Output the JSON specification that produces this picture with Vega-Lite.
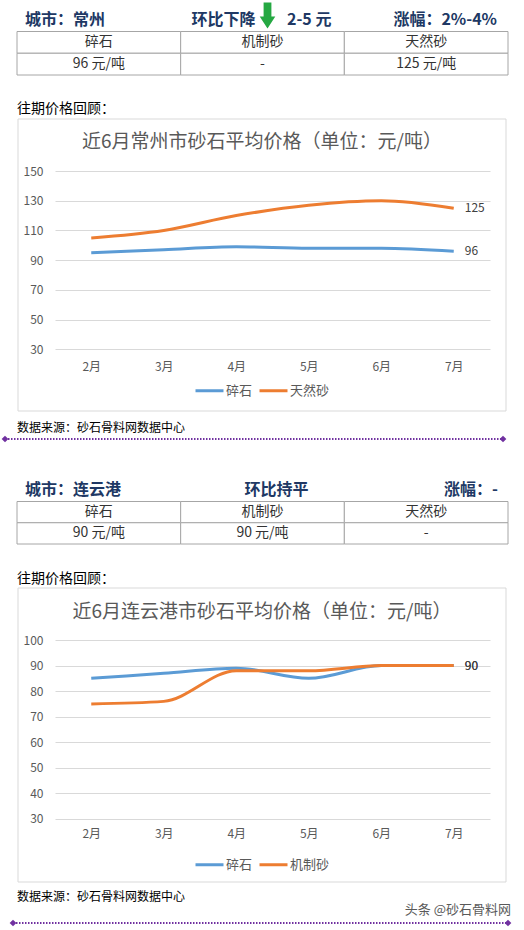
{
  "$schema": "https://vega.github.io/schema/vega-lite/v6.json",
  "padding": 0,
  "background": "white",
  "spacing": 0,
  "center": true,
  "bounds": "flush",
  "config": {
    "font": "Noto Sans CJK SC",
    "view": {"stroke": null},
    "text": {"font": "Noto Sans CJK SC"},
    "axis": {"labelFont": "Noto Sans CJK SC"},
    "legend": {"labelFont": "Noto Sans CJK SC"},
    "title": {"font": "Noto Sans CJK SC"}
  },
  "resolve": {
    "scale": {"x": "independent", "y": "independent", "color": "independent"},
    "legend": {"color": "independent"}
  },
  "datasets": {
    "header1": [
      {"part": "left", "col": "c1", "text": "城市：常州"},
      {"part": "midL", "col": "c2", "text": "环比下降"},
      {"part": "arrow", "col": "c2", "text": ""},
      {"part": "midR", "col": "c2", "text": "2-5 元"},
      {"part": "right", "col": "c3", "text": "涨幅：2%-4%"}
    ],
    "header2": [
      {"part": "left", "col": "c1", "text": "城市：连云港"},
      {"part": "mid", "col": "c2", "text": "环比持平"},
      {"part": "right", "col": "c3", "text": "涨幅：-"}
    ],
    "table1": [
      {"col": "c1", "row": "r1", "text": "碎石"},
      {"col": "c2", "row": "r1", "text": "机制砂"},
      {"col": "c3", "row": "r1", "text": "天然砂"},
      {"col": "c1", "row": "r2", "text": "96 元/吨"},
      {"col": "c2", "row": "r2", "text": "-"},
      {"col": "c3", "row": "r2", "text": "125 元/吨"}
    ],
    "table2": [
      {"col": "c1", "row": "r1", "text": "碎石"},
      {"col": "c2", "row": "r1", "text": "机制砂"},
      {"col": "c3", "row": "r1", "text": "天然砂"},
      {"col": "c1", "row": "r2", "text": "90 元/吨"},
      {"col": "c2", "row": "r2", "text": "90 元/吨"},
      {"col": "c3", "row": "r2", "text": "-"}
    ],
    "label": [{"col": "c1", "text": "往期价格回顾："}],
    "box": [{"box": 1}],
    "title1": [{"text": "近6月常州市砂石平均价格（单位：元/吨）"}],
    "title2": [{"text": "近6月连云港市砂石平均价格（单位：元/吨）"}],
    "chart1": [
      {"month": "2月", "type": "碎石", "value": 95},
      {"month": "3月", "type": "碎石", "value": 97},
      {"month": "4月", "type": "碎石", "value": 99},
      {"month": "5月", "type": "碎石", "value": 98},
      {"month": "6月", "type": "碎石", "value": 98},
      {"month": "7月", "type": "碎石", "value": 96},
      {"month": "2月", "type": "天然砂", "value": 105},
      {"month": "3月", "type": "天然砂", "value": 110},
      {"month": "4月", "type": "天然砂", "value": 120},
      {"month": "5月", "type": "天然砂", "value": 127},
      {"month": "6月", "type": "天然砂", "value": 130},
      {"month": "7月", "type": "天然砂", "value": 125}
    ],
    "chart2": [
      {"month": "2月", "type": "碎石", "value": 85},
      {"month": "3月", "type": "碎石", "value": 87},
      {"month": "4月", "type": "碎石", "value": 89},
      {"month": "5月", "type": "碎石", "value": 85},
      {"month": "6月", "type": "碎石", "value": 90},
      {"month": "7月", "type": "碎石", "value": 90},
      {"month": "2月", "type": "机制砂", "value": 75},
      {"month": "3月", "type": "机制砂", "value": 76},
      {"month": "4月", "type": "机制砂", "value": 88},
      {"month": "5月", "type": "机制砂", "value": 88},
      {"month": "6月", "type": "机制砂", "value": 90},
      {"month": "7月", "type": "机制砂", "value": 90}
    ],
    "foot1": [
      {"p": "a", "r": "l"},
      {"p": "b", "r": "l"}
    ],
    "foot1text": [{"p": "a", "r": "t", "text": "数据来源：砂石骨料网数据中心"}],
    "foot2": [
      {"p": "a", "r": "l"},
      {"p": "b", "r": "l"}
    ],
    "foot2text": [
      {"p": "a", "r": "t", "text": "数据来源：砂石骨料网数据中心"}
    ],
    "foot2brand": [
      {"p": "b", "r": "w", "text": "头条 @砂石骨料网"}
    ]
  },
  "vconcat": [
    {
      "width": 524,
      "height": 31,
      "data": {"name": "header1"},
      "layer": [
        {
          "transform": [{"filter": "datum.part === 'left'"}],
          "mark": {"type": "text", "align": "left", "dx": 8, "dy": 4, "fontSize": 16, "fontWeight": "bold", "color": "#203864"},
          "encoding": {
            "x": {"field": "col", "type": "nominal", "bandPosition": 0, "scale": {"type": "band", "domain": ["c1", "c2", "c3"], "range": [17, 508], "paddingInner": 0, "paddingOuter": 0}, "axis": null},
            "text": {"field": "text"}
          }
        },
        {
          "transform": [{"filter": "datum.part === 'midL'"}],
          "mark": {"type": "text", "align": "right", "dx": -7, "dy": 4, "fontSize": 16, "fontWeight": "bold", "color": "#203864"},
          "encoding": {
            "x": {"field": "col", "type": "nominal", "bandPosition": 0.5, "scale": {"type": "band"}, "axis": null},
            "text": {"field": "text"}
          }
        },
        {
          "transform": [{"filter": "datum.part === 'arrow'"}],
          "mark": {"type": "point", "filled": true, "opacity": 1, "color": "#25a842", "size": 676, "xOffset": 5, "shape": "M-0.3,-1L0.3,-1L0.3,0.08L0.6,0.08L0,1L-0.6,0.08L-0.3,0.08Z"},
          "encoding": {
            "x": {"field": "col", "type": "nominal", "bandPosition": 0.5, "scale": {"type": "band"}, "axis": null}
          }
        },
        {
          "transform": [{"filter": "datum.part === 'midR'"}],
          "mark": {"type": "text", "align": "left", "dx": 24.5, "dy": 4, "fontSize": 16, "fontWeight": "bold", "color": "#203864"},
          "encoding": {
            "x": {"field": "col", "type": "nominal", "bandPosition": 0.5, "scale": {"type": "band"}, "axis": null},
            "text": {"field": "text"}
          }
        },
        {
          "transform": [{"filter": "datum.part === 'right'"}],
          "mark": {"type": "text", "align": "right", "dx": -11, "dy": 4, "fontSize": 16, "fontWeight": "bold", "color": "#203864"},
          "encoding": {
            "x": {"field": "col", "type": "nominal", "bandPosition": 1, "scale": {"type": "band"}, "axis": null},
            "text": {"field": "text"}
          }
        }
      ]
    },
    {
      "width": 524,
      "height": 44,
      "data": {"name": "table1"},
      "layer": [
        {
          "mark": {"type": "rect", "fill": "white", "stroke": "#a6a6a6", "strokeWidth": 1},
          "encoding": {
            "x": {"field": "col", "type": "nominal", "scale": {"type": "band", "domain": ["c1", "c2", "c3"], "range": [17, 508], "paddingInner": 0, "paddingOuter": 0}, "axis": null},
            "y": {"field": "row", "type": "nominal", "scale": {"type": "band", "domain": ["r1", "r2"], "range": [0.5, 44], "paddingInner": 0, "paddingOuter": 0}, "axis": null}
          }
        },
        {
          "mark": {"type": "text", "fontSize": 14, "color": "#333333"},
          "encoding": {
            "x": {"field": "col", "type": "nominal", "bandPosition": 0.5, "scale": {"type": "band"}, "axis": null},
            "y": {"field": "row", "type": "nominal", "bandPosition": 0.5, "scale": {"type": "band"}, "axis": null},
            "text": {"field": "text"}
          }
        }
      ]
    },
    {
      "width": 524,
      "height": 44,
      "data": {"name": "label"},
      "mark": {"type": "text", "align": "left", "dy": 12, "fontSize": 14, "color": "#000000"},
      "encoding": {
        "x": {"field": "col", "type": "nominal", "bandPosition": 0, "scale": {"type": "band", "domain": ["c1", "c2", "c3"], "range": [17, 508], "paddingInner": 0, "paddingOuter": 0}, "axis": null},
        "text": {"field": "text"}
      }
    },
    {
      "width": 488,
      "height": 292,
      "layer": [
        {
          "data": {"name": "box"},
          "mark": {"type": "rect", "fill": null, "stroke": "#d9d9d9", "strokeWidth": 1},
          "encoding": {}
        },
        {
          "data": {"name": "title1"},
          "mark": {"type": "text", "dy": -123, "fontSize": 19, "color": "#595959"},
          "encoding": {"text": {"field": "text"}}
        },
        {
          "data": {"name": "chart1"},
          "mark": {"type": "line", "interpolate": "monotone", "strokeWidth": 3},
          "encoding": {
            "x": {"field": "month", "type": "ordinal", "scale": {"type": "point", "domain": ["2月", "3月", "4月", "5月", "6月", "7月"], "range": [37, 472], "padding": 0.5},
              "axis": {"title": null, "domain": false, "ticks": false, "tickSize": 0, "labelPadding": 0, "offset": -50, "labelFontSize": 12, "labelColor": "#595959", "labelAngle": 0, "labelBaseline": "top", "grid": false}},
            "y": {"field": "value", "type": "quantitative", "scale": {"domain": [-11.5, 185], "nice": false, "zero": false},
              "axis": {"title": null, "values": [30, 50, 70, 90, 110, 130, 150], "domain": false, "ticks": false, "tickSize": 0, "labelPadding": 0, "offset": -25, "labelFontSize": 12, "labelColor": "#595959", "grid": true, "gridColor": "#d9d9d9", "gridWidth": 1}},
            "color": {"field": "type", "type": "nominal", "scale": {"domain": ["碎石", "天然砂"], "range": ["#5B9BD5", "#ED7D31"]},
              "legend": {"title": null, "orient": "none", "legendX": 176, "legendY": 256, "direction": "horizontal", "symbolType": "stroke", "symbolStrokeWidth": 3, "symbolSize": 784, "labelFontSize": 13, "labelColor": "#595959", "columnPadding": 0, "labelOffset": 1}}
          }
        },
        {
          "data": {"name": "chart1"},
          "transform": [{"filter": "datum.month === '7月'"}],
          "mark": {"type": "text", "align": "left", "dx": 11, "fontSize": 12, "color": "#404040"},
          "encoding": {
            "x": {"field": "month", "type": "ordinal"},
            "y": {"field": "value", "type": "quantitative"},
            "text": {"field": "value", "type": "quantitative"}
          }
        }
      ]
    },
    {
      "width": 524,
      "height": 59,
      "layer": [
        {
          "data": {"name": "foot1"},
          "mark": {"type": "line", "strokeDash": [1.5, 1.5], "strokeWidth": 1.8, "color": "#7030A0"},
          "encoding": {
            "x": {"field": "p", "type": "ordinal", "scale": {"type": "point", "domain": ["a", "b"], "range": [5, 503], "padding": 0}, "axis": null},
            "y": {"field": "r", "type": "ordinal", "scale": {"type": "point", "domain": ["t", "l"], "range": [17, 28], "padding": 0}, "axis": null}
          }
        },
        {
          "data": {"name": "foot1"},
          "mark": {"type": "point", "shape": "diamond", "filled": true, "opacity": 1, "size": 45, "color": "#7030A0"},
          "encoding": {
            "x": {"field": "p", "type": "ordinal", "axis": null},
            "y": {"field": "r", "type": "ordinal", "axis": null}
          }
        },
        {
          "data": {"name": "foot1text"},
          "mark": {"type": "text", "align": "left", "dx": 12, "fontSize": 12, "color": "#000000"},
          "encoding": {
            "x": {"field": "p", "type": "ordinal", "axis": null},
            "y": {"field": "r", "type": "ordinal", "axis": null},
            "text": {"field": "text"}
          }
        }
      ]
    },
    {
      "width": 524,
      "height": 31,
      "data": {"name": "header2"},
      "layer": [
        {
          "transform": [{"filter": "datum.part === 'left'"}],
          "mark": {"type": "text", "align": "left", "dx": 8, "dy": 4, "fontSize": 16, "fontWeight": "bold", "color": "#203864"},
          "encoding": {
            "x": {"field": "col", "type": "nominal", "bandPosition": 0, "scale": {"type": "band", "domain": ["c1", "c2", "c3"], "range": [17, 508], "paddingInner": 0, "paddingOuter": 0}, "axis": null},
            "text": {"field": "text"}
          }
        },
        {
          "transform": [{"filter": "datum.part === 'mid'"}],
          "mark": {"type": "text", "align": "center", "dx": 14, "dy": 4, "fontSize": 16, "fontWeight": "bold", "color": "#203864"},
          "encoding": {
            "x": {"field": "col", "type": "nominal", "bandPosition": 0.5, "scale": {"type": "band"}, "axis": null},
            "text": {"field": "text"}
          }
        },
        {
          "transform": [{"filter": "datum.part === 'right'"}],
          "mark": {"type": "text", "align": "right", "dx": -10, "dy": 4, "fontSize": 16, "fontWeight": "bold", "color": "#203864"},
          "encoding": {
            "x": {"field": "col", "type": "nominal", "bandPosition": 1, "scale": {"type": "band"}, "axis": null},
            "text": {"field": "text"}
          }
        }
      ]
    },
    {
      "width": 524,
      "height": 43,
      "data": {"name": "table2"},
      "layer": [
        {
          "mark": {"type": "rect", "fill": "white", "stroke": "#a6a6a6", "strokeWidth": 1},
          "encoding": {
            "x": {"field": "col", "type": "nominal", "scale": {"type": "band", "domain": ["c1", "c2", "c3"], "range": [17, 508], "paddingInner": 0, "paddingOuter": 0}, "axis": null},
            "y": {"field": "row", "type": "nominal", "scale": {"type": "band", "domain": ["r1", "r2"], "range": [0.5, 43], "paddingInner": 0, "paddingOuter": 0}, "axis": null}
          }
        },
        {
          "mark": {"type": "text", "fontSize": 14, "color": "#333333"},
          "encoding": {
            "x": {"field": "col", "type": "nominal", "bandPosition": 0.5, "scale": {"type": "band"}, "axis": null},
            "y": {"field": "row", "type": "nominal", "bandPosition": 0.5, "scale": {"type": "band"}, "axis": null},
            "text": {"field": "text"}
          }
        }
      ]
    },
    {
      "width": 524,
      "height": 44,
      "data": {"name": "label"},
      "mark": {"type": "text", "align": "left", "dy": 13, "fontSize": 14, "color": "#000000"},
      "encoding": {
        "x": {"field": "col", "type": "nominal", "bandPosition": 0, "scale": {"type": "band", "domain": ["c1", "c2", "c3"], "range": [17, 508], "paddingInner": 0, "paddingOuter": 0}, "axis": null},
        "text": {"field": "text"}
      }
    },
    {
      "width": 488,
      "height": 294,
      "layer": [
        {
          "data": {"name": "box"},
          "mark": {"type": "rect", "fill": null, "stroke": "#d9d9d9", "strokeWidth": 1},
          "encoding": {}
        },
        {
          "data": {"name": "title2"},
          "mark": {"type": "text", "dy": -123, "fontSize": 19, "color": "#595959"},
          "encoding": {"text": {"field": "text"}}
        },
        {
          "data": {"name": "chart2"},
          "mark": {"type": "line", "interpolate": "monotone", "strokeWidth": 3},
          "encoding": {
            "x": {"field": "month", "type": "ordinal", "scale": {"type": "point", "domain": ["2月", "3月", "4月", "5月", "6月", "7月"], "range": [37, 472], "padding": 0.5},
              "axis": {"title": null, "domain": false, "ticks": false, "tickSize": 0, "labelPadding": 0, "offset": -54, "labelFontSize": 12, "labelColor": "#595959", "labelAngle": 0, "labelBaseline": "top", "grid": false}},
            "y": {"field": "value", "type": "quantitative", "scale": {"domain": [5.36, 120.34], "nice": false, "zero": false},
              "axis": {"title": null, "values": [30, 40, 50, 60, 70, 80, 90, 100], "domain": false, "ticks": false, "tickSize": 0, "labelPadding": 0, "offset": -25, "labelFontSize": 12, "labelColor": "#595959", "grid": true, "gridColor": "#d9d9d9", "gridWidth": 1}},
            "color": {"field": "type", "type": "nominal", "scale": {"domain": ["碎石", "机制砂"], "range": ["#5B9BD5", "#ED7D31"]},
              "legend": {"title": null, "orient": "none", "legendX": 176, "legendY": 261, "direction": "horizontal", "symbolType": "stroke", "symbolStrokeWidth": 3, "symbolSize": 784, "labelFontSize": 13, "labelColor": "#595959", "columnPadding": 0, "labelOffset": 1}}
          }
        },
        {
          "data": {"name": "chart2"},
          "transform": [{"filter": "datum.month === '7月'"}],
          "mark": {"type": "text", "align": "left", "dx": 11, "fontSize": 12, "color": "#404040"},
          "encoding": {
            "x": {"field": "month", "type": "ordinal"},
            "y": {"field": "value", "type": "quantitative"},
            "text": {"field": "value", "type": "quantitative"}
          }
        }
      ]
    },
    {
      "width": 524,
      "height": 48,
      "layer": [
        {
          "data": {"name": "foot2"},
          "mark": {"type": "line", "strokeDash": [1.5, 1.5], "strokeWidth": 1.8, "color": "#7030A0"},
          "encoding": {
            "x": {"field": "p", "type": "ordinal", "scale": {"type": "point", "domain": ["a", "b"], "range": [13, 508], "padding": 0}, "axis": null},
            "y": {"field": "r", "type": "ordinal", "scale": {"type": "point", "domain": ["t", "w", "l"], "range": [15, 41], "padding": 0}, "axis": null}
          }
        },
        {
          "data": {"name": "foot2"},
          "mark": {"type": "point", "shape": "diamond", "filled": true, "opacity": 1, "size": 45, "color": "#7030A0"},
          "encoding": {
            "x": {"field": "p", "type": "ordinal", "axis": null},
            "y": {"field": "r", "type": "ordinal", "axis": null}
          }
        },
        {
          "data": {"name": "foot2text"},
          "mark": {"type": "text", "align": "left", "dx": 4, "fontSize": 12, "color": "#000000"},
          "encoding": {
            "x": {"field": "p", "type": "ordinal", "axis": null},
            "y": {"field": "r", "type": "ordinal", "axis": null},
            "text": {"field": "text"}
          }
        },
        {
          "data": {"name": "foot2brand"},
          "mark": {"type": "text", "align": "right", "dx": 3, "fontSize": 13, "color": "#595959"},
          "encoding": {
            "x": {"field": "p", "type": "ordinal", "axis": null},
            "y": {"field": "r", "type": "ordinal", "axis": null},
            "text": {"field": "text"}
          }
        }
      ]
    }
  ]
}
